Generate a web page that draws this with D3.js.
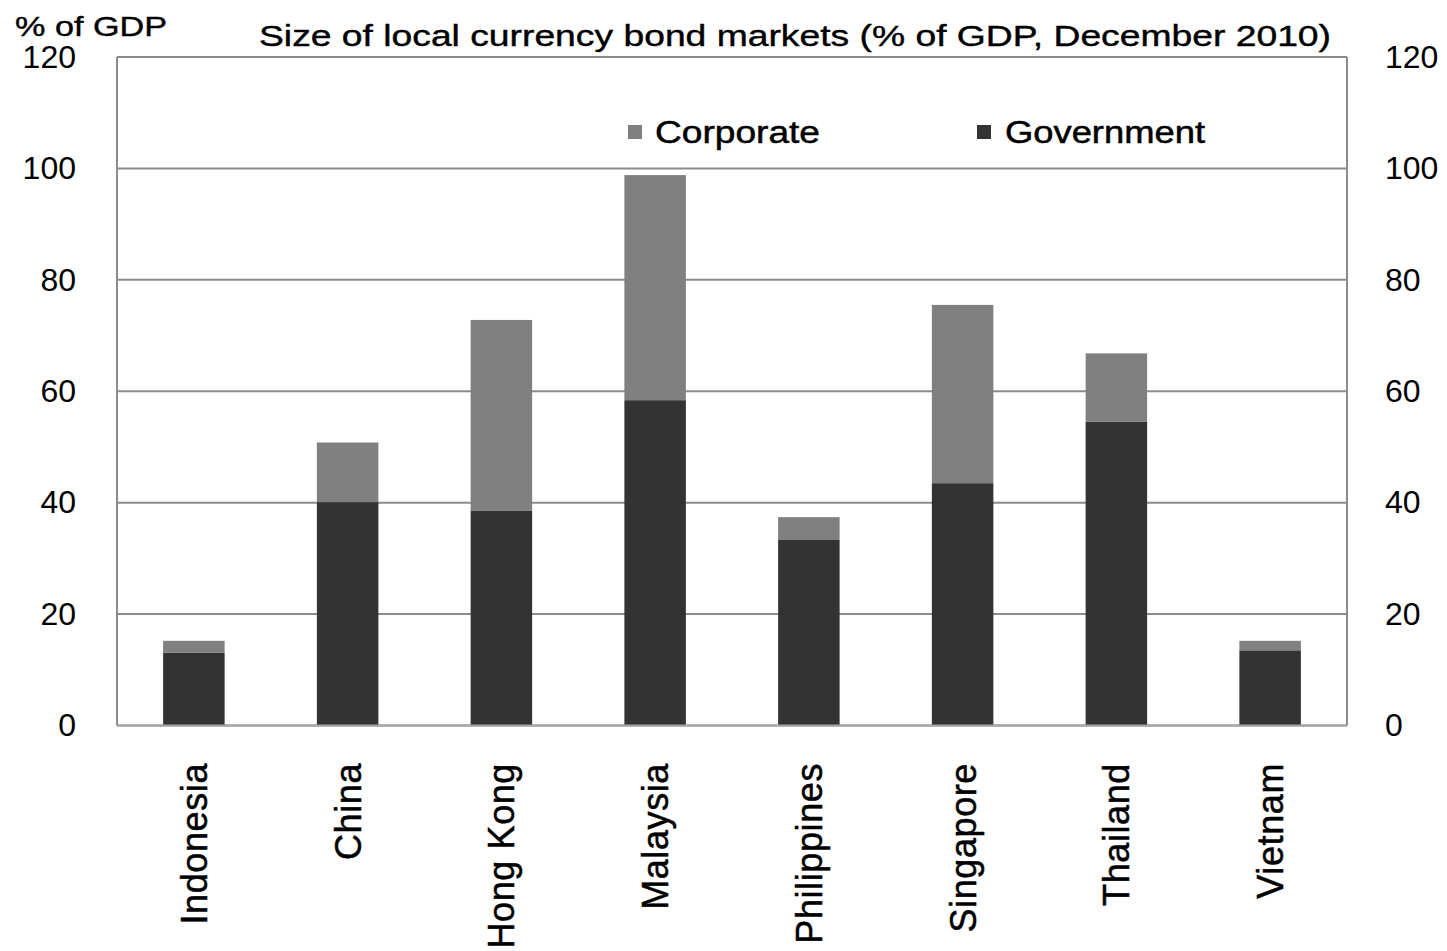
<!DOCTYPE html>
<html>
<head>
<meta charset="utf-8">
<script src="https://cdn.jsdelivr.net/npm/d3@7"></script>
<style>
  html, body { margin: 0; padding: 0; background: #fff; }
  svg { display: block; font-family: "Liberation Sans", Arial, sans-serif; }
</style>
</head>
<body>
<svg id="chart" width="1447" height="951"></svg>
<script>
// Local currency bond markets, % of GDP, December 2010
const countries = ["Indonesia", "China", "Hong Kong", "Malaysia", "Philippines", "Singapore", "Thailand", "Vietnam"];
const government = [13.1, 40.1, 38.6, 58.4, 33.3, 43.5, 54.5, 13.5];
const corporate  = [2.1, 10.7, 34.2, 40.4, 4.1, 32.0, 12.3, 1.7];
const yTicks = [0, 20, 40, 60, 80, 100, 120];
const seriesNames = ["Corporate", "Government"];
const seriesColors = ["#808080", "#333333"];

const svg = d3.select("#chart");
const plot = { left: 117, right: 1347, top: 57, bottom: 725.5 };

const x = d3.scaleBand()
  .domain(countries)
  .range([plot.left, plot.right])
  .paddingInner(0.6)
  .paddingOuter(0.3);

const y = d3.scaleLinear()
  .domain([0, 120])
  .range([plot.bottom, plot.top]);

// Horizontal gridlines
svg.append("g")
  .selectAll("line")
  .data(yTicks)
  .join("line")
  .attr("x1", plot.left).attr("x2", plot.right)
  .attr("y1", d => y(d)).attr("y2", d => y(d))
  .attr("stroke", "#8c8c8c")
  .attr("stroke-width", 2);

// Stacked bars: government at the base, corporate on top
const rows = countries.map((c, i) => ({ country: c, Government: government[i], Corporate: corporate[i] }));
const stack = d3.stack().keys(["Government", "Corporate"])(rows);
const colorOf = { Government: seriesColors[1], Corporate: seriesColors[0] };

svg.append("g")
  .selectAll("g")
  .data(stack)
  .join("g")
  .attr("fill", d => colorOf[d.key])
  .selectAll("rect")
  .data(d => d)
  .join("rect")
  .attr("x", d => x(d.data.country))
  .attr("width", x.bandwidth())
  .attr("y", d => y(d[1]))
  .attr("height", d => y(d[0]) - y(d[1]));

// Plot frame: left, right and bottom axis lines
const frame = svg.append("g").attr("stroke", "#8c8c8c").attr("stroke-width", 2);
frame.append("line").attr("x1", plot.left).attr("x2", plot.left).attr("y1", y(120)).attr("y2", y(0));
frame.append("line").attr("x1", plot.right).attr("x2", plot.right).attr("y1", y(120)).attr("y2", y(0));
frame.append("line").attr("x1", plot.left).attr("x2", plot.right).attr("y1", y(0)).attr("y2", y(0)).attr("stroke", "#a6a6a6");

// Left and right value axes
const leftAxis = d3.axisLeft(y).tickValues(yTicks).tickSize(0).tickPadding(41);
const rightAxis = d3.axisRight(y).tickValues(yTicks).tickSize(0).tickPadding(38);

function styleAxis(g) {
  g.select(".domain").remove();
  g.selectAll("text")
    .attr("font-size", 32)
    .attr("fill", "#000")
    .attr("font-family", "Liberation Sans, Arial, sans-serif");
}
svg.append("g").attr("transform", `translate(${plot.left},0)`).call(leftAxis).call(styleAxis);
svg.append("g").attr("transform", `translate(${plot.right},0)`).call(rightAxis).call(styleAxis);

// Category labels, rotated
svg.append("g")
  .selectAll("text")
  .data(countries)
  .join("text")
  .attr("transform", d => `translate(${x(d) + x.bandwidth() / 2 + 13},763) rotate(-90)`)
  .attr("text-anchor", "end")
  .attr("font-size", 36)
  .attr("letter-spacing", 0.6)
  .attr("stroke", "#000")
  .attr("stroke-width", 0.5)
  .attr("fill", "#000")
  .text(d => d);

// Unit label and title
svg.append("text")
  .attr("x", 15).attr("y", 36)
  .attr("font-size", 28)
  .attr("stroke", "#000").attr("stroke-width", 0.4)
  .attr("textLength", 152)
  .attr("lengthAdjust", "spacingAndGlyphs")
  .text("% of GDP");

svg.append("text")
  .attr("x", 259).attr("y", 46)
  .attr("font-size", 29)
  .attr("stroke", "#000").attr("stroke-width", 0.4)
  .attr("textLength", 1072)
  .attr("lengthAdjust", "spacingAndGlyphs")
  .text("Size of local currency bond markets (% of GDP, December 2010)");

// Legend
const legendPos = [{ sx: 628, tx: 655, w: 165 }, { sx: 977, tx: 1005, w: 200 }];
const legend = svg.append("g")
  .selectAll("g")
  .data(seriesNames)
  .join("g");
legend.append("rect")
  .attr("x", (d, i) => legendPos[i].sx)
  .attr("y", 125)
  .attr("width", 14).attr("height", 14)
  .attr("fill", (d, i) => seriesColors[i]);
legend.append("text")
  .attr("x", (d, i) => legendPos[i].tx)
  .attr("y", 143)
  .attr("font-size", 31)
  .attr("stroke", "#000").attr("stroke-width", 0.5)
  .attr("textLength", (d, i) => legendPos[i].w)
  .attr("lengthAdjust", "spacingAndGlyphs")
  .text(d => d);
</script>
</body>
</html>
